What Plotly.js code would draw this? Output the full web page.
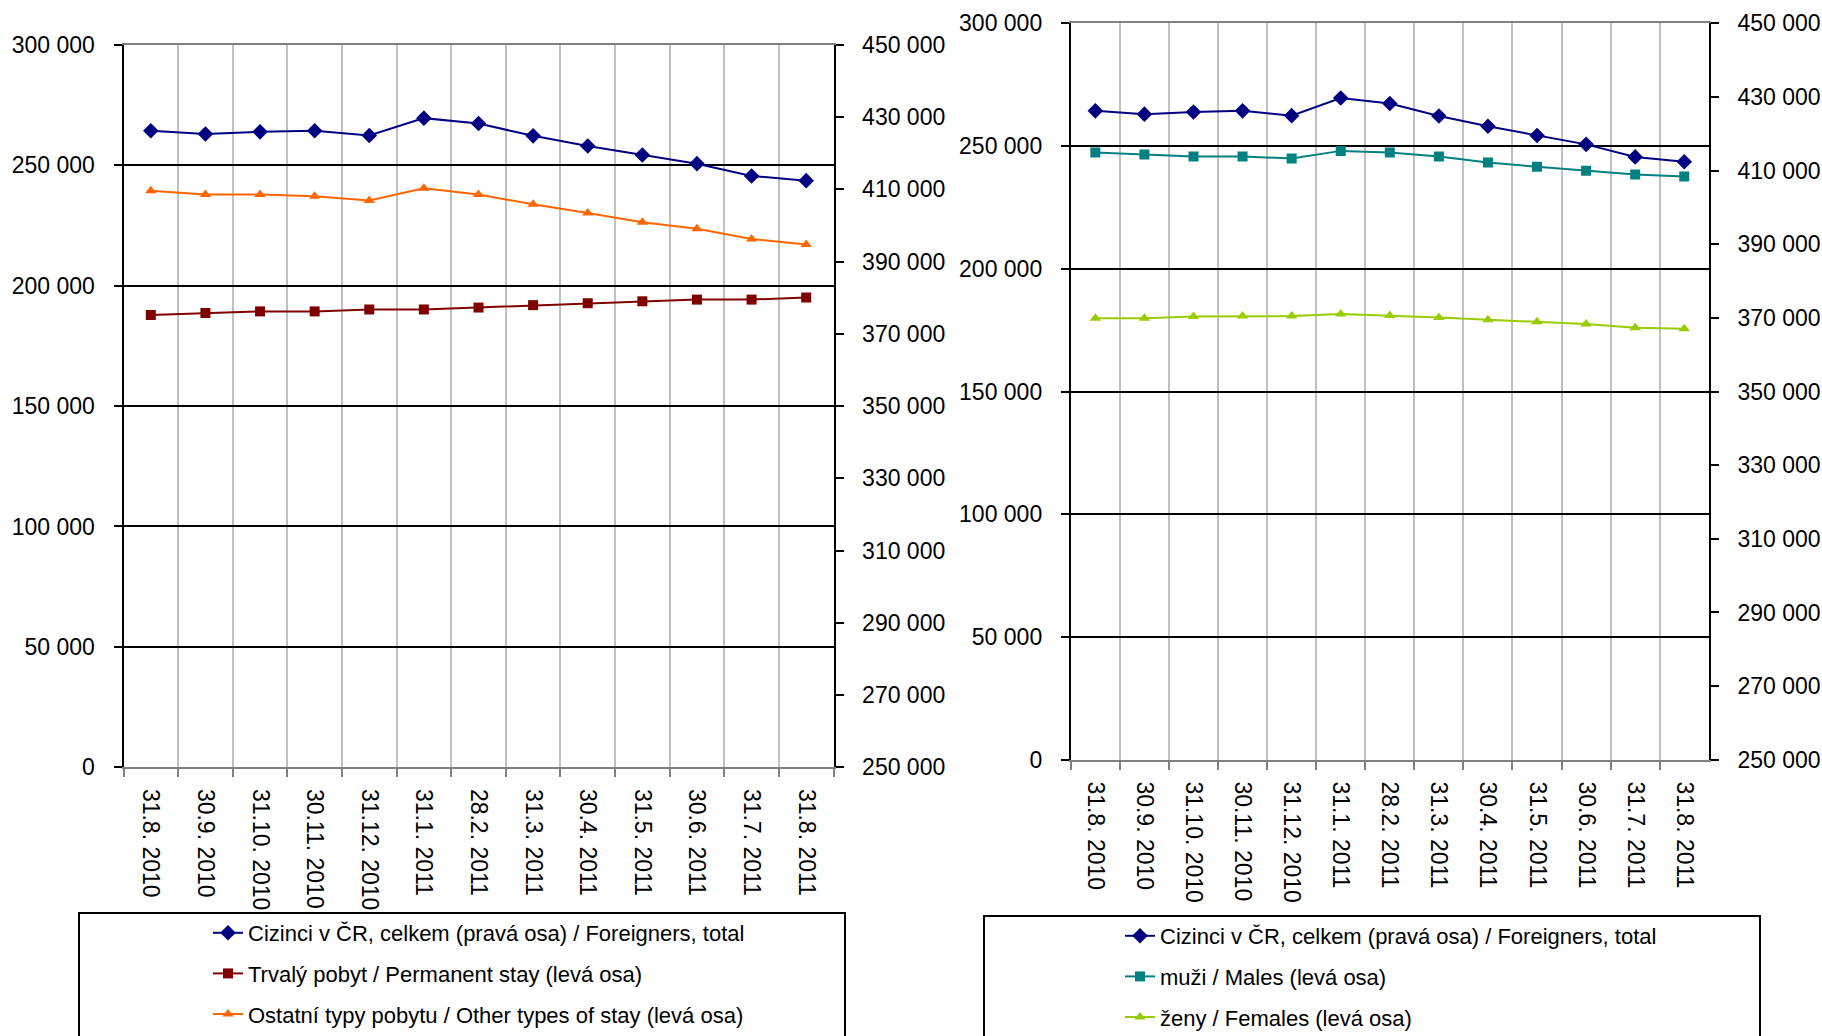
<!DOCTYPE html>
<html>
<head>
<meta charset="utf-8">
<script src="https://cdn.plot.ly/plotly-3.0.1.min.js"></script>
<style>html,body{margin:0;padding:0;background:#fff;}#chart{width:1822px;height:1036px;}</style>
</head>
<body>
<div id="chart"></div>
<script>
const dates = ["31.8. 2010","30.9. 2010","31.10. 2010","30.11. 2010","31.12. 2010","31.1. 2011","28.2. 2011","31.3. 2011","30.4. 2011","31.5. 2011","30.6. 2011","31.7. 2011","31.8. 2011"];
const foreignersTotal = [426200, 425300, 425900, 426200, 424900, 429700, 428200, 424800, 422000, 419500, 417100, 413700, 412400];
const permanentStay = [187800, 188600, 189300, 189300, 190100, 190100, 190900, 191900, 192700, 193500, 194200, 194200, 195100];
const otherStay = [239400, 237800, 237800, 237100, 235400, 240400, 237800, 233800, 230200, 226300, 223600, 219400, 217100];
const males = [247300, 246500, 245700, 245700, 244900, 248000, 247300, 245700, 243300, 241500, 239900, 238400, 237600];
const females = [179800, 179800, 180500, 180700, 180700, 181600, 181000, 180100, 179200, 178400, 177500, 176000, 175600];

const nameTotal = "Cizinci v ČR, celkem (pravá osa) / Foreigners, total";
const namePerm = "Trvalý pobyt / Permanent stay (levá osa)";
const nameOther = "Ostatní typy pobytu / Other types of stay (levá osa)";
const nameMales = "muži / Males (levá osa)";
const nameFemales = "ženy / Females (levá osa)";

const W = 1822, H = 1036;
const px = v => v / W;
const py = v => 1 - v / H;

function tr(y, name, color, symbol, size, xa, ya, legend, group) {
  return {
    x: dates, y: y, name: name, type: "scatter", mode: "lines+markers",
    line: {color: color, width: 2},
    marker: {color: color, symbol: symbol, size: size},
    xaxis: xa, yaxis: ya, legend: legend, legendgroup: group,
    hoverinfo: "skip"
  };
}

const traces = [
  tr(foreignersTotal, nameTotal, "#000080", "diamond", 12, "x", "y2", "legend", "a"),
  tr(permanentStay, namePerm, "#800000", "square", 10, "x", "y", "legend", "b"),
  tr(otherStay, nameOther, "#FF6600", "triangle-up", 10, "x", "y", "legend", "c"),
  tr(foreignersTotal, nameTotal, "#000080", "diamond", 12, "x2", "y4", "legend2", "d"),
  tr(males, nameMales, "#008080", "square", 10, "x2", "y3", "legend2", "e"),
  tr(females, nameFemales, "#99CC00", "triangle-up", 10, "x2", "y3", "legend2", "f")
];

const tickFont = {family: "Liberation Sans, Arial, sans-serif", size: 23, color: "#000"};

function xAxis(dom, anchor) {
  return {
    type: "category", domain: dom, anchor: anchor, range: [-0.5, 12.5],
    tickson: "boundaries", ticks: "outside", ticklen: 8, tickwidth: 2, tickcolor: "#808080",
    showgrid: true, gridcolor: "#C0C0C0", gridwidth: 2,
    showline: true, linecolor: "#808080", linewidth: 2, mirror: true,
    tickangle: 90, tickfont: tickFont, ticklabelstandoff: 15, fixedrange: true
  };
}
function yLeft(dom, anchor) {
  return {
    domain: dom, anchor: anchor, range: [0, 300000], dtick: 50000, tick0: 0,
    tickformat: ",d", showgrid: true, gridcolor: "#000", gridwidth: 2, zeroline: false,
    showline: true, linecolor: "#000", linewidth: 2, ticks: "outside", ticklen: 8, tickwidth: 2, tickcolor: "#000",
    tickfont: tickFont, ticklabelstandoff: 14, fixedrange: true
  };
}
function yRight(overlay, anchor) {
  return {
    overlaying: overlay, anchor: anchor, side: "right", range: [250000, 450000], dtick: 20000, tick0: 250000,
    tickformat: ",d", showgrid: false, zeroline: false,
    showline: true, linecolor: "#000", linewidth: 2, ticks: "outside", ticklen: 8, tickwidth: 2, tickcolor: "#000",
    tickfont: tickFont, ticklabelstandoff: 14, fixedrange: true
  };
}
function yRightInner(overlay, anchor) {
  return {
    overlaying: overlay, anchor: anchor, side: "right", range: [250000, 450000], dtick: 20000, tick0: 250000,
    showgrid: false, zeroline: false, showline: false, showticklabels: false,
    ticks: "inside", ticklen: 8, tickwidth: 2, tickcolor: "#000", fixedrange: true
  };
}

const legendBase = {
  font: {family: "Liberation Sans, Arial, sans-serif", size: 22, color: "#000"},
  bgcolor: "rgba(0,0,0,0)", borderwidth: 0, xanchor: "left", yanchor: "top",
  traceorder: "grouped", tracegroupgap: 9, itemclick: false, itemdoubleclick: false
};

const layout = {
  width: W, height: H, margin: {l: 0, r: 0, t: 0, b: 0, pad: 0, autoexpand: false},
  paper_bgcolor: "#fff", plot_bgcolor: "#fff", separators: ", ",
  showlegend: true,
  xaxis: xAxis([px(123.5), px(833.5)], "y"),
  yaxis: yLeft([py(767.3), py(44.8)], "x"),
  yaxis2: yRight("y", "x"),
  xaxis2: xAxis([px(1070.8), px(1708.8)], "y3"),
  yaxis3: yLeft([py(759.8), py(23.2)], "x2"),
  yaxis4: yRight("y3", "x2"),
  yaxis5: yRightInner("y", "x"),
  yaxis6: yRightInner("y3", "x2"),
  legend: Object.assign({}, legendBase, {x: px(208), y: py(912)}),
  legend2: Object.assign({}, legendBase, {x: px(1120), y: py(915)}),
  shapes: [
    {type: "rect", xref: "paper", yref: "paper", x0: px(79), x1: px(845), y0: py(1045), y1: py(913),
     line: {color: "#000", width: 2}, fillcolor: "#fff", layer: "above"},
    {type: "rect", xref: "paper", yref: "paper", x0: px(984), x1: px(1760), y0: py(1045), y1: py(916),
     line: {color: "#000", width: 2}, fillcolor: "#fff", layer: "above"}
  ]
};

Plotly.newPlot("chart", traces, layout, {displayModeBar: false, staticPlot: true});
</script>
</body>
</html>
